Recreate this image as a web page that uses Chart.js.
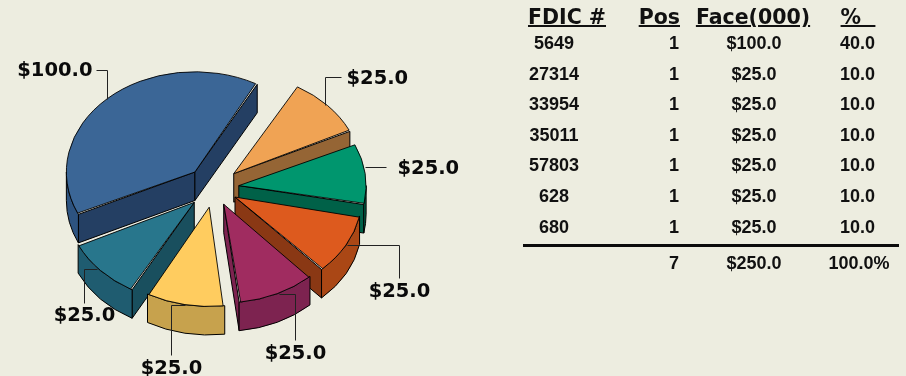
<!DOCTYPE html>
<html>
<head>
<meta charset="utf-8">
<script src="https://cdn.jsdelivr.net/npm/chart.js@4/dist/chart.umd.min.js"></script>
<style>
    html, body { margin: 0; padding: 0; background: #EDEDE0; overflow: hidden; }
    #wrap { position: relative; width: 906px; height: 376px; }
    #pie { position: absolute; left: 0; top: 0; }
    .cell { position: absolute; transform: translateY(-50%); font: bold 18px "Liberation Sans", Arial, sans-serif; color: #111; white-space: pre; }
    .head { font: bold 20.5px "DejaVu Sans", Verdana, sans-serif; text-decoration: underline; text-decoration-thickness: 2px; }
    #rule { position: absolute; left: 523px; top: 244px; width: 376px; height: 2.5px; background: #0b0b0b; }
</style>
</head>
<body>
<div id="wrap">
    <canvas id="pie" width="906" height="376"></canvas>
    <div id="rule"></div>
</div>
<script>
const tableHeads = ['FDIC #', 'Pos', 'Face(000)', '%  '];
const fdicNumbers = ['5649', '27314', '33954', '35011', '57803', '628', '680'];
const positions = [1, 1, 1, 1, 1, 1, 1];
const faceValues = [100, 25, 25, 25, 25, 25, 25];
const percents = ['40.0', '10.0', '10.0', '10.0', '10.0', '10.0', '10.0'];
const totalRow = ['', '7', '$250.0', '100.0%'];

const topColors = ['#3B6696', '#F0A354', '#00966E', '#DD5A1E', '#A02C60', '#FFCC5F', '#28768C'];
const radialColors = ['#243F63', '#956535', '#006148', '#8A3814', '#7D2350', '#C7A24D', '#194F5E'];
const rimColors = ['#2D5380', '#956535', '#006148', '#AA4715', '#7D2350', '#C7A24D', '#1F5C70'];
const explode = [28, 27, 25, 24, 23, 25, 27];

const squash = 0.78;
const depth = 28.5;

// Leader steps from the rim point, then where the text sits from the last point.
const anchorShift = [[0, 0], [-2, 0], [0, -7], [1, 0], [2, 0], [0, 0], [-4, -2]];
const leaderSteps = [
    [[0, -29], [-11, 0]],
    [[0, -28], [16, 0]],
    [[21, 0]],
    [[52, 0], [0, 33]],
    [[16, 0], [0, 46]],
    [[-14, 0], [0, 50]],
    [[-13, 0], [0, 34]],
];
const labelNudge = [
    { x: -4, y: 0, align: 'right' },
    { x: 5, y: 1, align: 'left' },
    { x: 11, y: 1, align: 'left' },
    { x: 0, y: 13, align: 'center' },
    { x: 0, y: 13, align: 'center' },
    { x: 0, y: 13, align: 'center' },
    { x: 0, y: 12, align: 'center' },
];

function sliceShape(el, i) {
    const off = el.options.offset / 4;
    const mid = (el.startAngle + el.endAngle) / 2;
    const fix = 1 - Math.sin(Math.min(Math.PI, el.circumference));
    return {
        x: el.x + Math.cos(mid) * off,
        y: el.y + Math.sin(mid) * off * squash,
        r: el.outerRadius + off * fix,
        mid,
        start: el.startAngle,
        end: el.endAngle,
        i,
    };
}

function fillFace(ctx, color, trace) {
    ctx.beginPath();
    trace();
    ctx.closePath();
    ctx.fillStyle = color;
    ctx.fill();
    ctx.stroke();
}

function drawRadial(ctx, s, angle, color) {
    const ex = s.x + Math.cos(angle) * s.r;
    const ey = s.y + Math.sin(angle) * s.r * squash;
    fillFace(ctx, color, () => {
        ctx.moveTo(s.x, s.y);
        ctx.lineTo(ex, ey);
        ctx.lineTo(ex, ey + depth);
        ctx.lineTo(s.x, s.y + depth);
    });
}

function drawRim(ctx, s, color) {
    const tau = Math.PI * 2;
    // angles come in past 2pi because of the rotation, check both front half windows
    [0, tau, tau * 2].forEach((base) => {
        const from = Math.max(s.start, base);
        const to = Math.min(s.end, base + Math.PI);
        if (to <= from) {
            return;
        }
        fillFace(ctx, color, () => {
            ctx.ellipse(s.x, s.y, s.r, s.r * squash, 0, from, to);
            ctx.ellipse(s.x, s.y + depth, s.r, s.r * squash, 0, to, from, true);
        });
    });
}

const pie3d = {
    id: 'pie3d',
    beforeDatasetsDraw(chart) {
        const ctx = chart.ctx;
        const arcs = chart.getDatasetMeta(0).data;
        const shapes = arcs.map(sliceShape).sort((a, b) => a.y - b.y);

        ctx.save();
        ctx.strokeStyle = '#000';
        ctx.lineWidth = 1;
        shapes.forEach((s) => {
            if (Math.cos(s.start) < 0) {
                drawRadial(ctx, s, s.start, radialColors[s.i]);
            }
            if (Math.cos(s.end) > 0) {
                drawRadial(ctx, s, s.end, radialColors[s.i]);
            }
            drawRim(ctx, s, rimColors[s.i]);
        });
        ctx.restore();

        // flatten the tops: chart.js draws round arcs, we tilt them here
        const cy = arcs[0].y;
        ctx.save();
        ctx.translate(0, cy);
        ctx.scale(1, squash);
        ctx.translate(0, -cy);
    },
    afterDatasetsDraw(chart) {
        const ctx = chart.ctx;
        ctx.restore();

        ctx.save();
        ctx.strokeStyle = '#222';
        ctx.lineWidth = 1;
        ctx.fillStyle = '#0a0a0a';
        ctx.font = 'bold 19.5px "DejaVu Sans", Verdana, sans-serif';
        ctx.textBaseline = 'middle';
        chart.getDatasetMeta(0).data.forEach((el, i) => {
            const s = sliceShape(el, i);
            let x = Math.round(s.x + Math.cos(s.mid) * s.r + anchorShift[i][0]) + 0.5;
            let y = Math.round(s.y + Math.sin(s.mid) * s.r * squash + anchorShift[i][1]) + 0.5;
            ctx.beginPath();
            ctx.moveTo(x, y);
            leaderSteps[i].forEach((step) => {
                x += step[0];
                y += step[1];
                ctx.lineTo(x, y);
            });
            ctx.stroke();
            const nudge = labelNudge[i];
            ctx.textAlign = nudge.align;
            ctx.fillText('$' + faceValues[i].toFixed(1), x + nudge.x, y + nudge.y);
        });
        ctx.restore();
    },
};

new Chart(document.getElementById('pie'), {
    type: 'pie',
    data: {
        labels: fdicNumbers,
        datasets: [{
            data: faceValues,
            backgroundColor: topColors,
            borderColor: '#000',
            borderWidth: 1,
            offset: explode.map((v) => v * 4),
            clip: false,
        }],
    },
    options: {
        responsive: false,
        animation: false,
        radius: 117,
        rotation: 245,
        layout: { padding: { right: 478 } },
        plugins: {
            legend: { display: false },
            tooltip: { enabled: false },
        },
    },
    plugins: [pie3d],
});

// right hand table
const wrap = document.getElementById('wrap');

function addCell(text, centerX, y, cls, anchor) {
    const div = document.createElement('div');
    div.className = cls;
    div.textContent = text;
    div.style.top = y + 'px';
    if (anchor === 'right') {
        div.style.right = (906 - centerX) + 'px';
    } else {
        div.style.left = centerX + 'px';
        div.style.transform = 'translate(-50%, -50%)';
    }
    wrap.appendChild(div);
}

const rowTop = 43;
const rowStep = 30.6;
addCell(tableHeads[0], 567, 17, 'cell head');
addCell(tableHeads[1], 680, 17, 'cell head', 'right');
addCell(tableHeads[2], 753, 17, 'cell head');
addCell(tableHeads[3], 858, 17, 'cell head');

fdicNumbers.forEach((id, i) => {
    const y = rowTop + i * rowStep;
    addCell(id, 554, y, 'cell');
    addCell(String(positions[i]), 679, y, 'cell', 'right');
    addCell('$' + faceValues[i].toFixed(1), 754, y, 'cell');
    addCell(percents[i], 875, y, 'cell', 'right');
});

addCell(totalRow[1], 679, 263, 'cell', 'right');
addCell(totalRow[2], 754, 263, 'cell');
addCell(totalRow[3], 859, 263, 'cell');
</script>
</body>
</html>
